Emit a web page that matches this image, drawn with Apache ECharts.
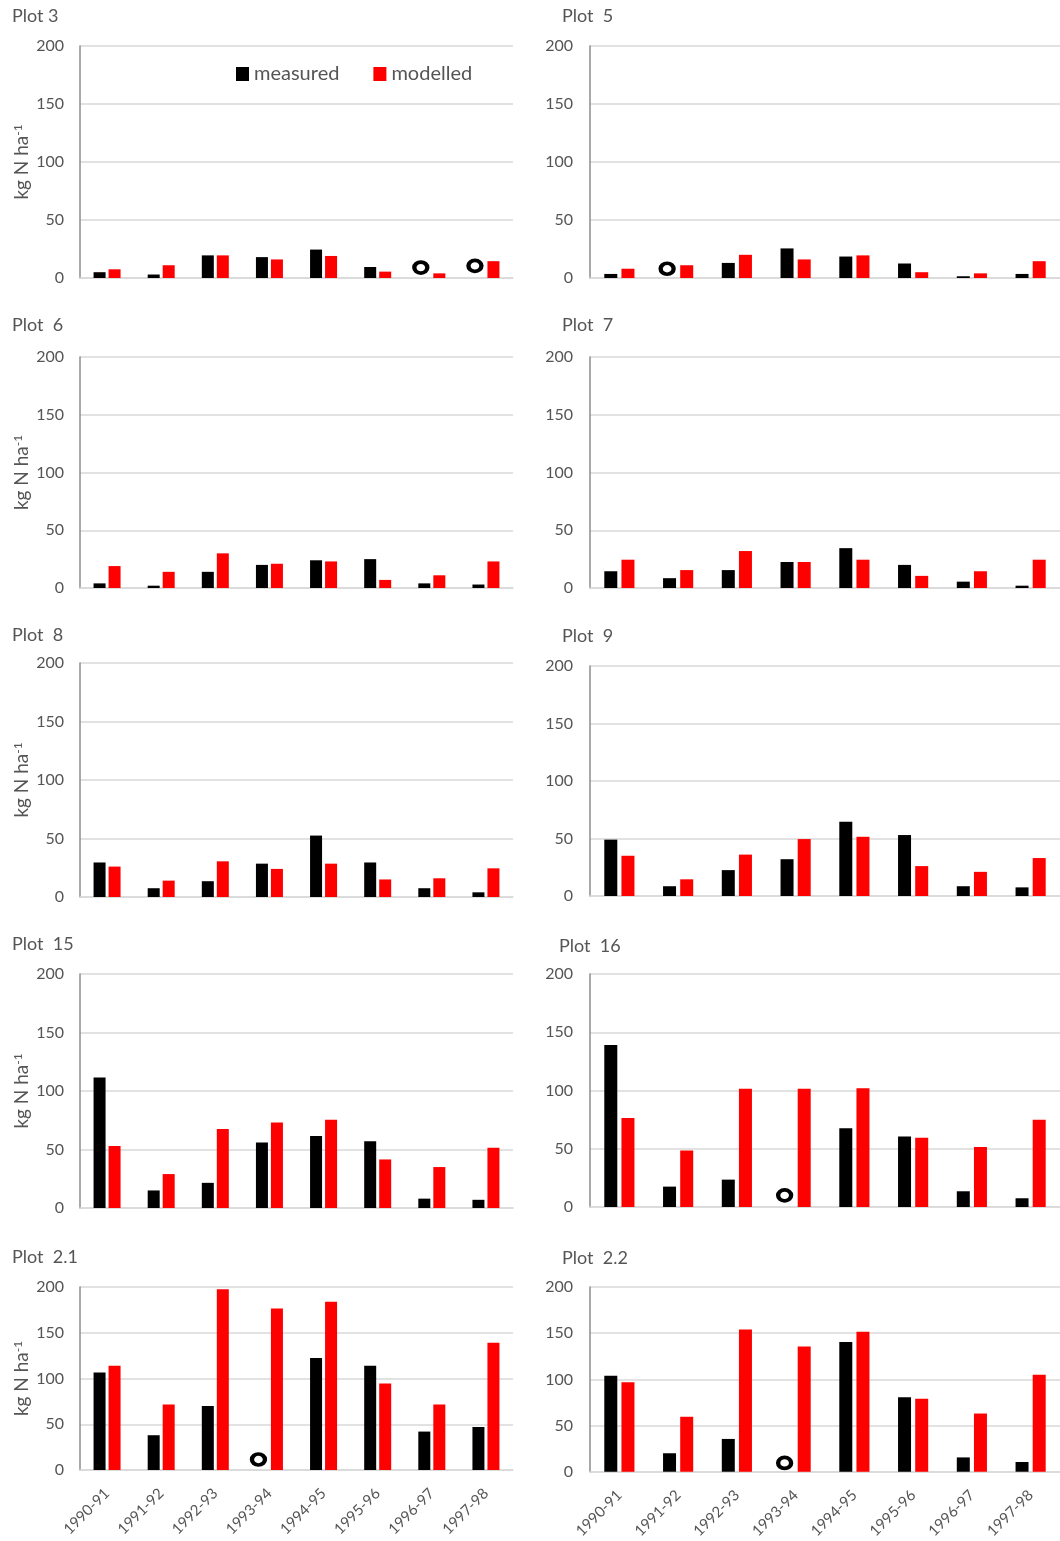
<!DOCTYPE html>
<html>
<head>
<meta charset="utf-8">
<script src="https://cdn.jsdelivr.net/npm/echarts@6/dist/echarts.min.js"></script>
<style>
html,body{margin:0;padding:0;background:#fff;}
#chart{width:1060px;height:1541px;}
</style>
</head>
<body>
<div id="chart"></div>
<script>
const categories = ['1990-91','1991-92','1992-93','1993-94','1994-95','1995-96','1996-97','1997-98'];
const yTicks = [0, 50, 100, 150, 200];

const plot3Measured  = [5, 3, 19.5, 18, 24.5, 9.5, null, null];
const plot3Modelled  = [7.5, 11, 19.5, 16, 19, 5.5, 4, 14.5];
const plot3Missing   = [null, null, null, null, null, null, 9, 10.5];

const plot5Measured  = [3.5, null, 13, 25.5, 18.5, 12.5, 1.5, 3.5];
const plot5Modelled  = [8, 11, 20, 16, 19.5, 5, 4, 14.5];
const plot5Missing   = [null, 8, null, null, null, null, null, null];

const plot6Measured  = [4, 2, 14, 20, 24, 25, 4, 3];
const plot6Modelled  = [19, 14, 30, 21, 23, 7, 11, 23];

const plot7Measured  = [14.5, 8.5, 15.5, 22.5, 34.5, 20, 5.5, 2];
const plot7Modelled  = [24.5, 15.5, 32, 22.5, 24.5, 10.5, 14.5, 24.5];

const plot8Measured  = [29.5, 7.5, 13.5, 28.5, 52.5, 29.5, 7.5, 4];
const plot8Modelled  = [26, 14, 30.5, 24, 28.5, 15, 16, 24.5];

const plot9Measured  = [49, 8.5, 22.5, 32, 64.5, 53, 8.5, 7.5];
const plot9Modelled  = [35, 14.5, 36, 49.5, 51.5, 26, 21, 33];

const plot15Measured = [111.5, 15, 21.5, 56, 61.5, 57, 8, 7];
const plot15Modelled = [53, 29, 67.5, 73, 75.5, 41.5, 35, 51.5];

const plot16Measured = [139, 17.5, 23.5, null, 67.5, 60.5, 13.5, 7.5];
const plot16Modelled = [76.5, 48.5, 101.5, 101.5, 102, 59.5, 51.5, 75];
const plot16Missing  = [null, null, null, 10, null, null, null, null];

const plot21Measured = [106.5, 38, 70, null, 122.5, 114, 42, 47];
const plot21Modelled = [114, 71.5, 197.5, 176.5, 184, 94.5, 71.5, 139];
const plot21Missing  = [null, null, null, 11.5, null, null, null, null];

const plot22Measured = [104, 20, 35.5, null, 140.5, 80.5, 15.5, 10.5];
const plot22Modelled = [97, 59.5, 154, 135.5, 151.5, 79, 63, 105];
const plot22Missing  = [null, null, null, 9.5, null, null, null, null];

const panelTitles = ['Plot 3', 'Plot  5', 'Plot  6', 'Plot  7', 'Plot  8', 'Plot  9', 'Plot  15', 'Plot  16', 'Plot  2.1', 'Plot  2.2'];
const panelMeasured = [plot3Measured, plot5Measured, plot6Measured, plot7Measured, plot8Measured, plot9Measured, plot15Measured, plot16Measured, plot21Measured, plot22Measured];
const panelModelled = [plot3Modelled, plot5Modelled, plot6Modelled, plot7Modelled, plot8Modelled, plot9Modelled, plot15Modelled, plot16Modelled, plot21Modelled, plot22Modelled];
const panelMissing  = [plot3Missing, plot5Missing, null, null, null, null, null, plot16Missing, plot21Missing, plot22Missing];

// layout (styling only)
const layout = [
  {left: 80,  width: 433, top: 46,   height: 232, tx: 12,  ty: 7},
  {left: 590, width: 470, top: 46,   height: 232, tx: 562, ty: 7},
  {left: 80,  width: 433, top: 357,  height: 231, tx: 12,  ty: 316},
  {left: 590, width: 470, top: 357,  height: 231, tx: 562, ty: 316},
  {left: 80,  width: 433, top: 663,  height: 234, tx: 12,  ty: 626},
  {left: 590, width: 470, top: 666,  height: 230, tx: 562, ty: 627},
  {left: 80,  width: 433, top: 974,  height: 234, tx: 12,  ty: 935},
  {left: 590, width: 470, top: 974,  height: 233, tx: 559, ty: 937},
  {left: 80,  width: 433, top: 1287, height: 183, tx: 12,  ty: 1248},
  {left: 590, width: 470, top: 1287, height: 185, tx: 562, ty: 1249}
];

const FONT = 'Lato, "Open Sans", sans-serif';
const TXT = '#555555';
const toData = arr => arr.map(v => (v === null ? '-' : v));

const grids = [], xAxes = [], yAxes = [], series = [], titles = [];
layout.forEach((L, i) => {
  const leftCol = (i % 2 === 0);
  const bottomRow = (i >= 8);
  grids.push({left: L.left, top: L.top, width: L.width, height: L.height, containLabel: false});
  titles.push({
    text: panelTitles[i], left: L.tx, top: L.ty, padding: 0,
    textStyle: {fontFamily: FONT, fontSize: 18, fontWeight: 'normal', color: TXT}
  });
  xAxes.push({
    type: 'category', gridIndex: i, data: categories,
    axisTick: {show: false},
    axisLine: {show: true, lineStyle: {color: '#d9d9d9', width: 1.5}},
    axisLabel: {show: bottomRow, rotate: 45, interval: 0, fontFamily: FONT, fontSize: 15, color: TXT, margin: 21},
    splitLine: {show: false}
  });
  const y = {
    type: 'value', gridIndex: i, min: yTicks[0], max: yTicks[yTicks.length - 1], interval: yTicks[1] - yTicks[0],
    axisLine: {show: true, lineStyle: {color: '#8c8c8c', width: 1.5}},
    axisTick: {show: false},
    axisLabel: {fontFamily: FONT, fontSize: 16, color: TXT, margin: leftCol ? 16 : 17},
    splitLine: {show: true, lineStyle: {color: '#d9d9d9', width: 1.5}}
  };
  if (leftCol) {
    y.name = '{a|kg N ha}{s|-1}';
    y.nameLocation = 'middle';
    y.nameRotate = 90;
    y.nameGap = 49;
    y.nameTextStyle = {
      rich: {
        a: {fontFamily: FONT, fontSize: 19, color: TXT},
        s: {fontFamily: FONT, fontSize: 12, color: TXT, verticalAlign: 'top', padding: [0, 0, 7, 0]}
      }
    };
  }
  yAxes.push(y);
  const bw = leftCol ? 12 : 13;
  const gap = leftCol ? '25%' : '32%';
  series.push({
    name: 'measured', type: 'bar', xAxisIndex: i, yAxisIndex: i,
    data: toData(panelMeasured[i]), barWidth: bw, barGap: gap,
    itemStyle: {color: '#000000'}
  });
  series.push({
    name: 'modelled', type: 'bar', xAxisIndex: i, yAxisIndex: i,
    data: toData(panelModelled[i]), barWidth: bw, barGap: gap,
    itemStyle: {color: '#ff0000'}
  });
  if (panelMissing[i]) {
    series.push({
      name: 'missing', type: 'scatter', xAxisIndex: i, yAxisIndex: i,
      data: toData(panelMissing[i]),
      symbol: 'circle', symbolSize: [13, 11], symbolOffset: [-11, 0],
      itemStyle: {color: '#ffffff', borderColor: '#000000', borderWidth: 4, opacity: 1},
      z: 5
    });
  }
});

const chart = echarts.init(document.getElementById('chart'), null, {renderer: 'canvas'});
chart.setOption({
  animation: false,
  backgroundColor: '#ffffff',
  title: titles,
  legend: {
    data: ['measured', 'modelled'],
    left: 236, top: 64, padding: 0,
    itemWidth: 13, itemHeight: 14, itemGap: 34,
    icon: 'rect', selectedMode: false,
    textStyle: {fontFamily: FONT, fontSize: 20, color: TXT}
  },
  grid: grids,
  xAxis: xAxes,
  yAxis: yAxes,
  series: series
});
</script>
</body>
</html>
